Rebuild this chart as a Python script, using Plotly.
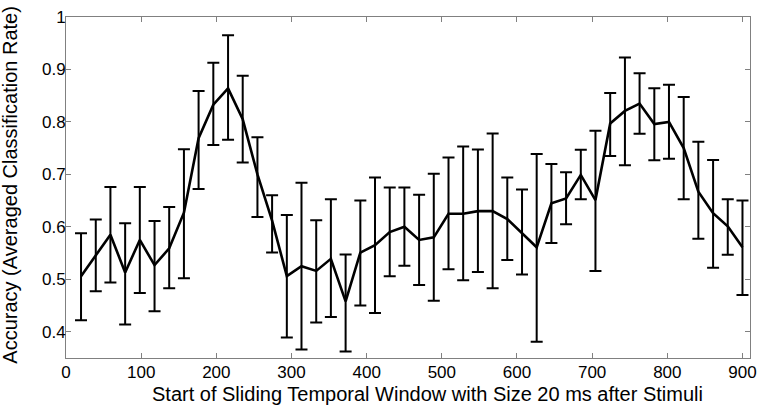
import plotly.graph_objects as go

# Window start (ms)
x_start = [20, 39.6, 59.1, 78.7, 98.2, 117.8, 137.3, 156.9, 176.4, 196.0,
           215.6, 235.1, 254.7, 274.2, 293.8, 313.3, 332.9, 352.4, 372.0, 391.6,
           411.1, 430.7, 450.2, 469.8, 489.3, 508.9, 528.4, 548.0, 567.6, 587.1,
           606.7, 626.2, 645.8, 665.3, 684.9, 704.4, 724.0, 743.6, 763.1, 782.7,
           802.2, 821.8, 841.3, 860.9, 880.4, 900.0]

accuracy = [0.506, 0.546, 0.585, 0.513, 0.575, 0.527, 0.559, 0.627, 0.769, 0.833,
            0.864, 0.805, 0.700, 0.612, 0.506, 0.525, 0.516, 0.539, 0.458, 0.551,
            0.565, 0.590, 0.600, 0.575, 0.580, 0.625, 0.625, 0.630, 0.630, 0.615,
            0.5875, 0.561, 0.645, 0.654, 0.699, 0.651, 0.797, 0.821, 0.835, 0.796,
            0.800, 0.750, 0.667, 0.626, 0.601, 0.561]

upper = [0.588, 0.614, 0.676, 0.607, 0.676, 0.611, 0.638, 0.748, 0.859, 0.913,
         0.965, 0.888, 0.771, 0.660, 0.6225, 0.684, 0.6125, 0.6525, 0.5475, 0.650,
         0.694, 0.675, 0.675, 0.661, 0.701, 0.732, 0.753, 0.7475, 0.778, 0.694,
         0.671, 0.739, 0.720, 0.704, 0.747, 0.783, 0.855, 0.923, 0.893, 0.864,
         0.871, 0.8475, 0.762, 0.7275, 0.6525, 0.650]

lower = [0.422, 0.477, 0.494, 0.414, 0.474, 0.439, 0.483, 0.502, 0.672, 0.756,
         0.766, 0.7225, 0.619, 0.551, 0.389, 0.366, 0.4175, 0.428, 0.3625, 0.450,
         0.436, 0.5056, 0.526, 0.489, 0.459, 0.519, 0.498, 0.514, 0.483, 0.537,
         0.509, 0.381, 0.569, 0.605, 0.6525, 0.516, 0.735, 0.7175, 0.7775, 0.727,
         0.730, 0.6525, 0.5775, 0.522, 0.547, 0.470]

x_ticks = [0, 100, 200, 300, 400, 500, 600, 700, 800, 900]
y_ticks = [0.4, 0.5, 0.6, 0.7, 0.8, 0.9, 1]
y_tick_text = ["0.4", "0.5", "0.6", "0.7", "0.8", "0.9", "1"]

x_title = "Start of Sliding Temporal Window with Size 20 ms after Stimuli"
y_title = "Accuracy (Averaged Classification Rate)"

err_plus = [u - m for u, m in zip(upper, accuracy)]
err_minus = [m - l for m, l in zip(accuracy, lower)]

FONT = "Liberation Sans, Arial, Helvetica, sans-serif"

fig = go.Figure()
fig.add_trace(go.Scatter(
    x=x_start, y=accuracy, mode="lines",
    line=dict(color="black", width=2.6),
    error_y=dict(type="data", symmetric=False, array=err_plus, arrayminus=err_minus,
                 color="black", thickness=2, width=6),
    showlegend=False,
))

axis_common = dict(
    showline=True, linecolor="#808080", linewidth=1, mirror="ticks",
    ticks="inside", ticklen=5, tickcolor="#808080", tickwidth=1,
    showgrid=False, zeroline=False, ticklabeloverflow="allow",
    tickfont=dict(family=FONT, size=17, color="black"),
)

fig.update_layout(
    width=765, height=416,
    margin=dict(l=66, r=8, t=11, b=58),
    paper_bgcolor="white", plot_bgcolor="white",
    xaxis=dict(range=[0, 910], tickvals=x_ticks, ticklabelstandoff=-1, **axis_common),
    yaxis=dict(range=[0.35, 1], tickvals=y_ticks, ticktext=y_tick_text,
               ticklabelstandoff=-4, **axis_common),
    annotations=[
        dict(text=x_title, xref="paper", yref="paper", x=0.528, y=-0.106,
             xanchor="center", yanchor="middle", showarrow=False,
             font=dict(family=FONT, size=20, color="black")),
        dict(text=y_title, xref="paper", yref="paper", x=-0.081, y=0.507,
             xanchor="center", yanchor="middle", textangle=-90, showarrow=False,
             font=dict(family=FONT, size=20, color="black")),
    ],
)

fig.write_html(
    "out.html",
    config={"displayModeBar": False},
    post_script="document.body.style.margin='0';document.body.style.overflow='hidden';",
)
